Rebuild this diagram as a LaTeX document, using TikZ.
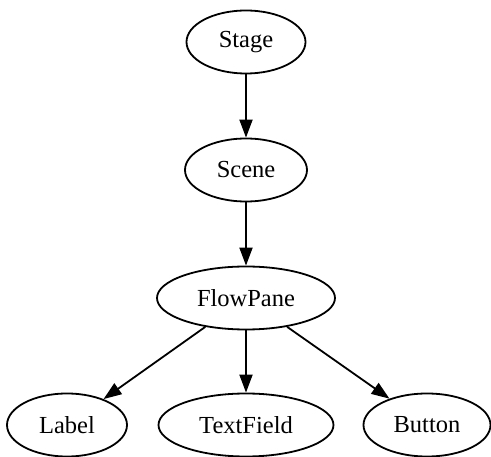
\documentclass[tikz,border=0pt]{standalone}
\usepackage{fontspec}
\setmainfont{Liberation Serif}
\usetikzlibrary{shapes.geometric,arrows.meta}
\begin{document}
\begin{tikzpicture}[x=1pt,y=-1pt,
  oval/.style={ellipse,draw,line width=1.8pt,inner sep=0pt,minimum height=63pt,font=\fontsize{24.5}{28}\selectfont},
  link/.style={line width=1.8pt,-{Triangle[length=18pt,width=13pt]}}]
\useasboundingbox (0,0) rectangle (491,457);
\node[oval,minimum width=119pt] (stage) at (246,42) {Stage};
\node[oval,minimum width=122pt] (scene) at (246,170) {Scene};
\node[oval,minimum width=178pt] (flow) at (246,298) {FlowPane};
\node[oval,minimum width=120pt] (label) at (67,425) {Label};
\node[oval,minimum width=175pt] (text) at (246,425) {TextField};
\node[oval,minimum width=127pt] (button) at (427,425) {Button};
\draw[link] (stage) -- (scene);
\draw[link] (scene) -- (flow);
\draw[link] (flow) -- (label);
\draw[link] (flow) -- (text);
\draw[link] (flow) -- (button);
\end{tikzpicture}
\end{document}
